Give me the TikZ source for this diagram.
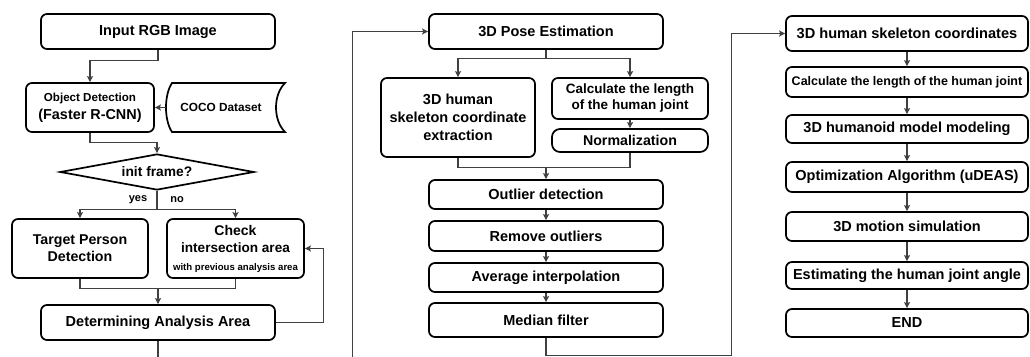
\documentclass[tikz,border=0pt]{standalone}
\usepackage{fontspec}
\setmainfont{Liberation Sans}
\usetikzlibrary{arrows.meta,shapes.geometric,calc}

\begin{document}
\begin{tikzpicture}[x=1pt,y=-1pt,
  box/.style={draw=black,line width=1.7pt,rounded corners=6pt,inner sep=0pt,
    align=center,font=\bfseries\fontsize{14.5pt}{17pt}\selectfont},
  plain/.style={inner sep=0pt,align=center,font=\bfseries\fontsize{14.5pt}{17pt}\selectfont},
  link/.style={draw=black!75,line width=1.1pt},
  arr/.style={link,-{Stealth[length=6pt,width=6pt,inset=1pt]}},
  lbl/.style={inner sep=0pt,font=\bfseries\fontsize{11pt}{13pt}\selectfont},
]
\useasboundingbox (0,0) rectangle (1030,356);

% ---------- left column ----------
\node[box,minimum width=234pt,minimum height=35pt] (inp) at (158,31.5) {Input RGB Image};
\node[box,minimum width=128pt,minimum height=49pt] (obj) at (90,107.5)
  {\fontsize{11.6pt}{14pt}\selectfont Object Detection\\[1pt]\fontsize{14.4pt}{17pt}\selectfont (Faster R-CNN)};
% stored-data shape for the dataset
\draw[line width=1.7pt] (172,83) -- (285,83) .. controls (273,95) and (273,120) .. (285,132)
  -- (172,132) .. controls (164,120) and (164,95) .. (172,83) -- cycle;
\node[plain,minimum width=110pt,minimum height=49pt,font=\bfseries\fontsize{11.8pt}{14pt}\selectfont]
  (coco) at (221,107.5) {COCO Dataset};
\node[draw=black,line width=1.7pt,diamond,aspect=5.4,minimum width=194pt,minimum height=36pt,inner sep=0pt,
  font=\bfseries\fontsize{13.8pt}{16pt}\selectfont] (dia) at (157,172) {init frame?};
\node[lbl] (yes) at (138,199.5) {yes};
\node[lbl] (no) at (177,199.5) {no};
\node[box,minimum width=136pt,minimum height=59pt,font=\bfseries\fontsize{14.2pt}{17pt}\selectfont]
  (tpd) at (80,248.5) {Target Person\\Detection};
\node[box,minimum width=137pt,minimum height=59pt] (chk) at (235.5,248.5)
  {\fontsize{14pt}{16pt}\selectfont Check\\\fontsize{13.6pt}{16pt}\selectfont intersection area\\[1pt]
   \fontsize{9.6pt}{11pt}\selectfont with previous analysis area};
\node[box,minimum width=234pt,minimum height=35pt] (det) at (158,322.5) {Determining Analysis Area};

% ---------- middle column ----------
\node[box,minimum width=234pt,minimum height=35pt] (pose) at (546,31.5) {3D Pose Estimation};
\node[box,minimum width=154pt,minimum height=79pt,font=\bfseries\fontsize{14.5pt}{18pt}\selectfont]
  (skel) at (458,117.5) {3D human\\skeleton coordinate\\extraction};
\node[box,minimum width=156pt,minimum height=41pt,font=\bfseries\fontsize{13.5pt}{16pt}\selectfont]
  (calc) at (630,98.5) {Calculate the length\\of the human joint};
\node[box,rounded corners=8pt,minimum width=156pt,minimum height=23pt,font=\bfseries\fontsize{14.2pt}{17pt}\selectfont]
  (norm) at (630,140.5) {Normalization};
\node[box,minimum width=234pt,minimum height=29pt] (outl) at (546,194.5) {Outlier detection};
\node[box,minimum width=234pt,minimum height=30pt] (remo) at (546,236) {Remove outliers};
\node[box,minimum width=234pt,minimum height=29pt] (avg) at (546,277.5) {Average interpolation};
\node[box,minimum width=234pt,minimum height=34pt] (med) at (546,320) {Median filter};

% ---------- right column ----------
\node[box,minimum width=242pt,minimum height=35pt,font=\bfseries\fontsize{14.6pt}{17pt}\selectfont]
  (sk3) at (907,33.5) {3D human skeleton coordinates};
\node[box,minimum width=242pt,minimum height=30pt,font=\bfseries\fontsize{12.5pt}{15pt}\selectfont]
  (cl2) at (907,82) {Calculate the length of the human joint};
\node[box,minimum width=242pt,minimum height=28pt] (hum) at (907,129) {3D humanoid model modeling};
\node[box,minimum width=242pt,minimum height=30pt] (opt) at (907,177) {Optimization Algorithm (uDEAS)};
\node[box,minimum width=242pt,minimum height=29pt] (mot) at (907,226.5) {3D motion simulation};
\node[box,minimum width=242pt,minimum height=27pt] (est) at (907,275.5) {Estimating the human joint angle};
\node[box,minimum width=242pt,minimum height=28pt] (endn) at (907,323) {END};

% ---------- connectors: left column ----------
\draw[arr] (inp.south) -- ++(0,11) -| (obj.north);
\draw[arr] (coco.west) -- (obj.east);
\draw[arr] (obj.south) -- ++(0,10) -| (dia.north);
\draw[link] (dia.south) -- ++(0,19) coordinate (br);
\draw[arr] (br) -| (tpd.north);
\draw[arr] (br) -| (chk.north);
\draw[link] (tpd.south) -- ++(0,10) -| (chk.south);
\coordinate (jn) at (det.north |- 0,288);
\draw[arr] (jn) -- (det.north);
\draw[arr] (det.east) -- ++(48,0) |- (chk.east);
\draw[arr] (det.south) -- ++(0,40) -| ([xshift=-76pt]pose.west) -- (pose.west);

% ---------- connectors: middle column ----------
\draw[link] (pose.south) -- ++(0,9) coordinate (pb);
\draw[arr] (pb) -| (skel.north);
\draw[arr] (pb) -| (calc.north);
\draw[arr] (calc.south) -- (norm.north);
\draw[link] (skel.south) -- ++(0,10) -| (norm.south);
\coordinate (mj) at (outl.north |- 0,167);
\draw[arr] (mj) -- (outl.north);
\draw[arr] (outl.south) -- (remo.north);
\draw[arr] (remo.south) -- (avg.north);
\draw[arr] (avg.south) -- (med.north);
\draw[arr] (med.south) -- ++(0,18) -| ([xshift=-54pt]sk3.west) -- (sk3.west);

% ---------- connectors: right column ----------
\draw[arr] (sk3.south) -- (cl2.north);
\draw[arr] (cl2.south) -- (hum.north);
\draw[arr] (hum.south) -- (opt.north);
\draw[arr] (opt.south) -- (mot.north);
\draw[arr] (mot.south) -- (est.north);
\draw[arr] (est.south) -- (endn.north);
\end{tikzpicture}
\end{document}
